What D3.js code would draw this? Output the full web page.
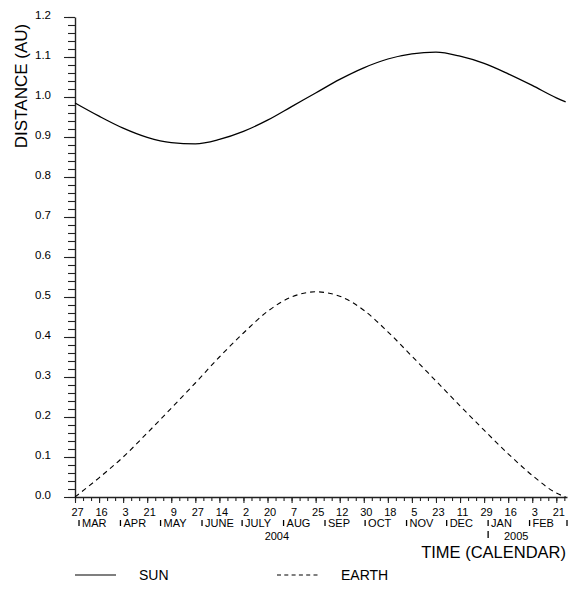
<!DOCTYPE html>
<html>
<head>
<meta charset="UTF-8">
<script src="https://cdn.jsdelivr.net/npm/d3@7"></script>
<style>
body { margin: 0; background: #fff; }
text { font-family: "Liberation Sans", Arial, sans-serif; fill: #000; }
</style>
</head>
<body>
<script>

// days counted from 27 Feb 2004
var sampleDays = [0, 18, 36, 54, 72, 90, 108, 126, 144, 162, 180, 198, 216, 234, 252, 270, 288, 306, 324, 342, 360, 367];
var sunAU   = [0.985, 0.952, 0.922, 0.899, 0.886, 0.883, 0.894, 0.914, 0.942, 0.976, 1.010, 1.044, 1.073, 1.095, 1.108, 1.112, 1.102, 1.084, 1.058, 1.029, 0.998, 0.988];
var earthAU = [0.000, 0.048, 0.100, 0.160, 0.222, 0.285, 0.350, 0.410, 0.464, 0.500, 0.513, 0.502, 0.467, 0.413, 0.352, 0.290, 0.228, 0.167, 0.108, 0.054, 0.010, 0.000];

var majorTicks = ["2004-02-27", "2004-03-16", "2004-04-03", "2004-04-21", "2004-05-09", "2004-05-27",
    "2004-06-14", "2004-07-02", "2004-07-20", "2004-08-07", "2004-08-25", "2004-09-12", "2004-09-30",
    "2004-10-18", "2004-11-05", "2004-11-23", "2004-12-11", "2004-12-29", "2005-01-16", "2005-02-03", "2005-02-21"];
var monthNames = ["MAR", "APR", "MAY", "JUNE", "JULY", "AUG", "SEP", "OCT", "NOV", "DEC", "JAN", "FEB"];
var yearLabels = ["2004", "2005"];
var yearLabelDates = ["2004-07-27", "2005-01-22"];
var yTicks = [0, 0.1, 0.2, 0.3, 0.4, 0.5, 0.6, 0.7, 0.8, 0.9, 1.0, 1.1, 1.2];

var width = 568, height = 589;
var parse = d3.utcParse("%Y-%m-%d");
var start = parse("2004-02-27");
var end = parse("2005-03-01");

var svg = d3.select("body").append("svg")
    .attr("width", width)
    .attr("height", height);

var x = d3.scaleUtc().domain([start, end]).range([75, 567]);
var y = d3.scaleLinear().domain([0, 1.2]).range([497, 17]);

// y axis: minor then major ticks
var yMinor = d3.range(0, 61).map(function(i) { return i * 0.02; });
svg.append("g")
    .attr("transform", "translate(75,0)")
    .call(d3.axisLeft(y).tickValues(yMinor).tickSize(7).tickFormat(""))
    .call(function(g) { g.select(".domain").remove(); });

var gy = svg.append("g")
    .attr("transform", "translate(75,0)")
    .call(d3.axisLeft(y).tickValues(yTicks).tickSize(11).tickPadding(13).tickSizeOuter(0).tickFormat(d3.format(".1f")));
gy.selectAll("text").attr("dy", "0.1em").style("font-size", "11.5px").style("font-family", "Liberation Sans, Arial, sans-serif");

// x axis
var allDays = d3.utcDay.range(start, d3.utcDay.offset(start, 367));
var minorTicks = allDays.filter(function(d, i) { return i % 6 === 0; });
svg.append("g")
    .attr("transform", "translate(0,497)")
    .call(d3.axisBottom(x).tickValues(minorTicks).tickSize(4).tickFormat(""))
    .call(function(g) { g.select(".domain").remove(); });

var gx = svg.append("g")
    .attr("transform", "translate(0,497)")
    .call(d3.axisBottom(x).tickValues(majorTicks.map(parse)).tickSize(6).tickPadding(5.5).tickSizeOuter(0)
        .tickFormat(d3.utcFormat("%-d")));
gx.selectAll("text").attr("dx", 2).style("font-size", "11px").style("font-family", "Liberation Sans, Arial, sans-serif");

svg.selectAll(".domain").attr("stroke", "#222").attr("stroke-width", 1.4);
svg.selectAll(".tick line").attr("stroke", "#222").attr("stroke-width", 1.1);

// month row
var monthStarts = d3.utcMonth.range(parse("2004-03-01"), parse("2005-03-02"));
svg.append("g").selectAll("line")
    .data(monthStarts)
    .enter().append("line")
    .attr("x1", function(d) { return x(d); })
    .attr("x2", function(d) { return x(d); })
    .attr("y1", 520)
    .attr("y2", 526)
    .attr("stroke", "#000")
    .attr("stroke-width", 1.3);

svg.append("g").selectAll("text")
    .data(monthNames)
    .enter().append("text")
    .attr("x", function(d, i) { return x(monthStarts[i]) + 3; })
    .attr("y", 527)
    .style("font-size", "11px")
    .text(function(d) { return d; });

// year row
svg.append("line")
    .attr("x1", x(parse("2005-01-01"))).attr("x2", x(parse("2005-01-01")))
    .attr("y1", 531).attr("y2", 538)
    .attr("stroke", "#000").attr("stroke-width", 1.3);

svg.append("g").selectAll("text")
    .data(yearLabels)
    .enter().append("text")
    .attr("x", function(d, i) { return x(parse(yearLabelDates[i])); })
    .attr("y", 540)
    .attr("text-anchor", "middle")
    .style("font-size", "11px")
    .text(function(d) { return d; });

// titles
svg.append("text")
    .attr("x", 566)
    .attr("y", 558)
    .attr("text-anchor", "end")
    .style("font-size", "16.5px")
    .text("TIME (CALENDAR)");

svg.append("text")
    .attr("transform", "translate(27,86) rotate(-90)")
    .attr("text-anchor", "middle")
    .style("font-size", "17px")
    .text("DISTANCE (AU)");

// curves
var sunData = sampleDays.map(function(d, i) { return {date: d3.utcDay.offset(start, d), v: sunAU[i]}; });
var earthData = sampleDays.map(function(d, i) { return {date: d3.utcDay.offset(start, d), v: earthAU[i]}; });

var line = d3.line()
    .x(function(d) { return x(d.date); })
    .y(function(d) { return y(d.v); })
    .curve(d3.curveMonotoneX);

svg.append("path")
    .datum(sunData)
    .attr("d", line)
    .attr("fill", "none")
    .attr("stroke", "#000")
    .attr("stroke-width", 1.3);

svg.append("path")
    .datum(earthData)
    .attr("d", line)
    .attr("fill", "none")
    .attr("stroke", "#000")
    .attr("stroke-width", 1.1)
    .attr("stroke-dasharray", "5,4");

// legend
var legend = [{name: "SUN", dash: null, x: 75}, {name: "EARTH", dash: "4,3.3", x: 277}];
var lg = svg.append("g").selectAll("g")
    .data(legend)
    .enter().append("g");
lg.append("line")
    .attr("x1", function(d) { return d.x; })
    .attr("x2", function(d) { return d.x + 41; })
    .attr("y1", 575)
    .attr("y2", 575)
    .attr("stroke", "#000")
    .attr("stroke-width", 1.2)
    .attr("stroke-dasharray", function(d) { return d.dash; });
lg.append("text")
    .attr("x", function(d) { return d.x + 64; })
    .attr("y", 580)
    .style("font-size", "14px")
    .text(function(d) { return d.name; });

</script>
</body>
</html>
